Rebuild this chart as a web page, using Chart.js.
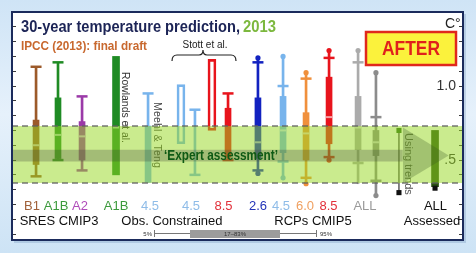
<!DOCTYPE html>
<html>
<head>
<meta charset="utf-8">
<title>30-year temperature prediction, 2013</title>
<script src="https://cdn.jsdelivr.net/npm/chart.js@4.4.1/dist/chart.umd.min.js"></script>
<style>
  html, body { margin: 0; padding: 0; }
  body {
    width: 476px; height: 253px; overflow: hidden;
    background: linear-gradient(180deg, #cfe4f6 0%, #e6f1fb 45%, #cde3f5 100%);
  }
  #chart { display: block; }
</style>
</head>
<body>
<canvas id="chart" width="476" height="253"></canvas>
<script>
// ---- data (values in °C, x = slot position along the panel, 0..30) ----
const slotX   = [1.6, 3.06, 4.66, 6.92, 9.05, 11.24, 12.17, 13.3, 14.37, 16.36, 18.03, 19.56, 21.09, 23.02, 24.21, 25.74, 28.14];
const whiskLo = [0.39, 0.50, 0.43, null, 0.35, null, 0.40, null, 0.50, 0.41, 0.38, 0.34, 0.50, 0.34, 0.26, null, null];
const whiskHi = [1.13, 1.16, 0.93, null, 0.95, null, 0.84, null, 0.95, 1.19, 1.20, 1.09, 1.24, 1.24, 1.09, null, null];
const boxLo   = [0.47, 0.51, 0.50, null, 0.35, null, null, null, 0.52, 0.51, 0.55, 0.50, 0.61, 0.57, 0.53, null, null];
const boxHi   = [0.77, 0.92, 0.76, null, 0.73, null, null, null, 0.85, 0.92, 0.93, 0.82, 1.06, 0.93, 0.70, null, null];
const capLo   = [0.39, 0.50, 0.43, null, null, null, 0.40, null, 0.50, 0.43, 0.49, 0.38, 0.52, 0.48, 0.36, null, null];
const capHi   = [1.13, 1.16, 0.93, null, 0.95, null, 0.84, null, 0.95, 1.16, 1.00, 1.05, 1.19, 1.16, 0.79, null, null];
const medians = [0.60, 0.67, 0.66, 0.72, null, null, null, null, null, 0.62, 0.70, 0.68, 0.79, 0.72, 0.62, null, null];
const dotLo   = [null, null, null, null, null, null, null, null, null, 0.41, 0.38, 0.34, 0.50, null, 0.26, null, null];
const dotHi   = [null, null, null, null, null, null, null, null, null, 1.19, 1.20, 1.09, 1.24, 1.24, 1.09, null, null];
const openLo  = [null, null, null, null, null, 0.61, null, 0.70, null, null, null, null, null, null, null, null, null];
const openHi  = [null, null, null, null, null, 1.01, null, 1.18, null, null, null, null, null, null, null, null, null];
const solidLo = [null, null, null, 0.40, null, null, null, null, null, null, null, null, null, null, null, null, 0.32];
const solidHi = [null, null, null, 1.20, null, null, null, null, null, null, null, null, null, null, null, null, 0.70];
const trendRange = [0.28, 0.70];    // "Using trends", slot 15
const assessedLow = 0.31;           // bottom marker of the assessed bar, slot 16

const expertBand = [0.345, 0.73];
const arrowBody  = [0.49, 0.57];
const arrowHead  = [26.0, 29.05, 0.53];   // base x, tip x, tip value

const yTicks = [0, 0.1, 0.2, 0.3, 0.4, 0.5, 0.6, 0.7, 0.8, 0.9, 1.0, 1.1, 1.2, 1.3, 1.4];

const scenLabels = ['B1', 'A1B', 'A2', 'A1B', '4.5', '4.5', '8.5', '2.6', '4.5', '6.0', '8.5', 'ALL', 'ALL'];
const scenX      = [1.33, 2.93, 4.52, 6.92, 9.18, 11.91, 14.07, 16.36, 17.89, 19.49, 21.05, 23.48, 28.17];
const groupLabels = ['SRES CMIP3', 'Obs. Constrained', 'RCPs CMIP5', 'Assessed'];
const groupX      = [3.13, 10.64, 20.02, 27.94];

// ---- styles ----
const colColor = ['#9c5a2a', '#1f8b24', '#9b3aa8', '#1f8b24', '#78b4ec', '#78b4ec', '#78b4ec', '#e8141c', '#e8141c',
                  '#1222c0', '#78b4ec', '#f0903c', '#e8141c', '#ababab', '#8c8c8c', '#333333', '#2b5212'];
const scenColor = ['#a0613a', '#3c9a3c', '#b04cba', '#3c9a3c', '#8fbce8', '#8fbce8', '#e2303a', '#2233b8', '#8fbce8',
                   '#f0a060', '#e2303a', '#9a9a9a', '#111111'];
const FONT = '"Liberation Sans", Arial, sans-serif';

function pick(lo, hi) {
  return slotX.map((x, i) => lo[i] == null ? null : { x, y: hi ? [lo[i], hi[i]] : lo[i], c: colColor[i] })
              .filter(Boolean);
}

function floatBars(lo, hi, thick, order, extra) {
  const pts = pick(lo, hi);
  return Object.assign({
    type: 'bar', data: pts.map(p => ({ x: p.x, y: p.y })),
    backgroundColor: pts.map(p => p.c), barThickness: thick, grouped: false, order
  }, extra || {});
}

function marks(vals, style, r, order, extra) {
  const pts = pick(vals);
  return Object.assign({
    type: 'scatter', data: pts.map(p => ({ x: p.x, y: p.y })), showLine: false,
    pointStyle: style, pointRadius: r, pointBorderWidth: 2.5,
    pointBackgroundColor: pts.map(p => p.c), pointBorderColor: pts.map(p => p.c), order
  }, extra || {});
}

function hLine(y, x0, x1, extra) {
  return Object.assign({
    type: 'line', data: [{ x: x0, y: y }, { x: x1, y: y }], pointRadius: 0,
    borderColor: 'transparent', borderWidth: 0, fill: false
  }, extra || {});
}

const dashed = { borderColor: 'rgba(95,95,95,0.85)', borderWidth: 1.5, borderDash: [6, 4] };
const bandFill = 'rgba(150,215,30,0.5)';

const datasets = [
  // expert assessment band (drawn over the columns)
  hLine(expertBand[1], 0, 30, Object.assign({ order: 2 }, dashed)),
  hLine(expertBand[0], 0, 30, Object.assign({ order: 2, fill: '-1', backgroundColor: bandFill }, dashed)),
  // arrow shaft
  hLine(arrowBody[1], 0, arrowHead[0], { order: 1 }),
  hLine(arrowBody[0], 0, arrowHead[0], { order: 1, fill: '-1', backgroundColor: 'rgba(60,62,55,0.27)' }),
  // arrow head
  { type: 'line', data: [{ x: arrowHead[0], y: 0.72 }, { x: arrowHead[1], y: arrowHead[2] }],
    pointRadius: 0, borderColor: 'transparent', borderWidth: 0, fill: false, order: 0 },
  { type: 'line', data: [{ x: arrowHead[0], y: expertBand[0] }, { x: arrowHead[1], y: arrowHead[2] }],
    pointRadius: 0, borderColor: 'transparent', borderWidth: 0, fill: '-1',
    backgroundColor: 'rgba(55,85,35,0.27)', order: 0 },

  // columns
  floatBars(whiskLo, whiskHi, 2, 9),
  floatBars(boxLo, boxHi, 6, 8),
  floatBars(solidLo, solidHi, 7, 8),
  floatBars(openLo, openHi, 8, 8, {
    backgroundColor: 'rgba(0,0,0,0)', borderColor: pick(openLo, openHi).map(p => p.c),
    borderWidth: 2, borderSkipped: false
  }),
  marks(capLo, 'line', 5.5, 6),
  marks(capHi, 'line', 5.5, 6),
  marks(medians, 'line', 3, 6, {
    pointBorderColor: 'rgba(255,255,255,0.6)', pointBackgroundColor: 'rgba(255,255,255,0.6)', pointBorderWidth: 2
  }),
  marks(dotLo, 'circle', 2.6, 6, { pointBorderWidth: 0 }),
  marks(dotHi, 'circle', 2.6, 6, { pointBorderWidth: 0 }),
  { type: 'line', order: 6,
    data: [{ x: slotX[15], y: trendRange[0] }, { x: slotX[15], y: trendRange[1] }],
    borderColor: '#333', borderWidth: 1.2, fill: false,
    pointStyle: 'rect', pointRadius: 3.6, pointBorderWidth: 0,
    pointBackgroundColor: ['#111', '#2b6a1a'] },
  { type: 'scatter', order: 5, data: [{ x: slotX[16], y: assessedLow }],
    pointStyle: 'rect', pointRadius: 3.6, pointBorderWidth: 0, pointBackgroundColor: '#111' }
];

function vText(ctx, text, x, y, color, maxW) {
  ctx.save();
  ctx.translate(x, y);
  ctx.rotate(Math.PI / 2);
  ctx.font = '11px ' + FONT;
  ctx.fillStyle = color;
  ctx.textAlign = 'left';
  ctx.textBaseline = 'middle';
  ctx.fillText(text, 0, 0, maxW);
  ctx.restore();
}

const decor = {
  id: 'decor',
  beforeDraw(chart) {
    const ctx = chart.ctx;
    ctx.save();
    ctx.fillStyle = 'rgba(70,110,160,0.22)';
    ctx.fillRect(14, 14, 452, 229);
    ctx.fillStyle = '#ffffff';
    ctx.fillRect(12, 12, 451, 228);
    ctx.restore();
  },
  beforeDatasetsDraw(chart) {
    const ctx = chart.ctx, x = chart.scales.x;
    vText(ctx, 'Rowlands et al.', x.getPixelForValue(7.52), 72, '#333', 71);
    vText(ctx, 'Meehl & Teng', x.getPixelForValue(9.65), 102, '#444', 66);
    vText(ctx, 'Using trends', x.getPixelForValue(26.34), 133, '#555', 64);
  },
  afterDatasetsDraw(chart) {
    const ctx = chart.ctx;
    ctx.save();
    ctx.font = 'bold 14px ' + FONT;
    ctx.fillStyle = '#0f5a14';
    ctx.textAlign = 'center';
    ctx.textBaseline = 'middle';
    ctx.fillText('\u2018Expert assessment\u2019', 221, 156, 114);
    ctx.restore();
  },
  afterDraw(chart) {
    const ctx = chart.ctx, x = chart.scales.x;
    ctx.save();
    // title
    ctx.textBaseline = 'alphabetic';
    ctx.textAlign = 'left';
    ctx.font = 'bold 17px ' + FONT;
    ctx.fillStyle = '#1c2456';
    ctx.fillText('30-year temperature prediction,', 21, 32, 219);
    ctx.fillStyle = '#7cb83e';
    ctx.fillText('2013', 243, 32, 33);
    ctx.font = 'bold 13px ' + FONT;
    ctx.fillStyle = '#c8682e';
    ctx.fillText('IPCC (2013): final draft', 21, 50, 126);

    // Stott et al. bracket
    ctx.font = '10px ' + FONT;
    ctx.fillStyle = '#222';
    ctx.textAlign = 'center';
    ctx.fillText('Stott et al.', 205, 48, 45);
    ctx.strokeStyle = '#222';
    ctx.lineWidth = 1.2;
    ctx.beginPath();
    ctx.moveTo(172, 61);
    ctx.quadraticCurveTo(172, 55, 177, 55);
    ctx.lineTo(199, 55);
    ctx.quadraticCurveTo(203, 55, 203, 50);
    ctx.quadraticCurveTo(203, 55, 207, 55);
    ctx.lineTo(231, 55);
    ctx.quadraticCurveTo(236, 55, 236, 61);
    ctx.stroke();

    // AFTER badge
    ctx.fillStyle = '#fbf23c';
    ctx.fillRect(366, 32, 90, 33);
    ctx.strokeStyle = '#e0281c';
    ctx.lineWidth = 2.5;
    ctx.strokeRect(366, 32, 90, 33);
    ctx.font = 'bold 21px ' + FONT;
    ctx.fillStyle = '#e0201c';
    ctx.textBaseline = 'middle';
    ctx.fillText('AFTER', 411, 49, 58);

    // unit
    ctx.textBaseline = 'alphabetic';
    ctx.textAlign = 'left';
    ctx.font = '14px ' + FONT;
    ctx.fillStyle = '#222';
    ctx.fillText('C\u00b0', 445, 28);

    // category labels
    ctx.textAlign = 'center';
    ctx.font = '13px ' + FONT;
    scenLabels.forEach((t, i) => {
      ctx.fillStyle = scenColor[i];
      ctx.fillText(t, x.getPixelForValue(scenX[i]), 210);
    });
    ctx.fillStyle = '#111';
    groupLabels.forEach((t, i) => ctx.fillText(t, x.getPixelForValue(groupX[i]), 225));

    // 5-95% key
    ctx.strokeStyle = '#777';
    ctx.lineWidth = 1;
    ctx.beginPath();
    ctx.moveTo(154, 233.5); ctx.lineTo(317, 233.5);
    ctx.moveTo(154.5, 230); ctx.lineTo(154.5, 237);
    ctx.moveTo(316.5, 230); ctx.lineTo(316.5, 237);
    ctx.stroke();
    ctx.fillStyle = '#9c9c9c';
    ctx.fillRect(190, 230, 90, 8);
    ctx.font = '6px ' + FONT;
    ctx.fillStyle = '#333';
    ctx.textBaseline = 'middle';
    ctx.fillText('17\u201383%', 235, 234);
    ctx.textAlign = 'right';
    ctx.fillText('5%', 152, 234);
    ctx.textAlign = 'left';
    ctx.fillText('95%', 320, 234);

    // frame
    ctx.strokeStyle = '#1b2b5c';
    ctx.lineWidth = 2;
    ctx.strokeRect(12, 12, 451, 228);
    ctx.restore();
  }
};

const yCommon = {
  type: 'linear', min: -0.04, max: 1.5,
  afterBuildTicks: axis => { axis.ticks = yTicks.map(v => ({ value: v })); },
  border: { display: false },
  grid: { drawOnChartArea: false, tickLength: -4, color: '#3a3a3a', tickWidth: 1 }
};

new Chart(document.getElementById('chart'), {
  type: 'bar',
  data: { datasets },
  options: {
    responsive: false,
    animation: false,
    events: [],
    layout: { padding: { top: 12, bottom: 13, left: 0, right: 0 } },
    plugins: { legend: { display: false }, tooltip: { enabled: false } },
    scales: {
      x: { type: 'linear', min: 0, max: 30, offset: false, display: false },
      y: Object.assign({}, yCommon, {
        position: 'right',
        z: 1,
        afterFit: axis => { axis.width = 13; },
        ticks: {
          mirror: true, padding: -7, color: '#333', autoSkip: false,
          font: { family: FONT, size: 14 },
          callback: v => (v === 1 ? '1.0' : Math.abs(v - 0.5) < 1e-6 ? '.5' : '')
        }
      }),
      yl: Object.assign({}, yCommon, {
        position: 'left',
        afterFit: axis => { axis.width = 12; },
        ticks: { display: false, autoSkip: false }
      })
    }
  },
  plugins: [decor]
});
</script>
</body>
</html>
